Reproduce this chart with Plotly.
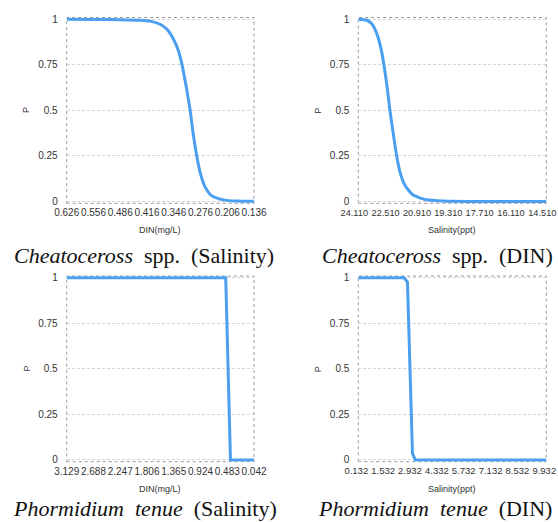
import plotly.graph_objects as go

# ---------------- data ----------------
# Panel 1: Cheatoceross spp. (Salinity) – x axis DIN(mg/L), reversed
p1_ticks = [0.626, 0.556, 0.486, 0.416, 0.346, 0.276, 0.206, 0.136]
p1_tick_text = ["0.626", "0.556", "0.486", "0.416", "0.346", "0.276", "0.206", "0.136"]
p1_x = [0.626, 0.556, 0.486, 0.434, 0.408, 0.382, 0.364, 0.347, 0.334, 0.325,
        0.3165, 0.310, 0.303, 0.295, 0.286, 0.277, 0.264, 0.247, 0.216, 0.181, 0.136]
p1_y = [1.0, 0.999, 0.998, 0.995, 0.990, 0.973, 0.946, 0.892, 0.829, 0.757,
        0.667, 0.59, 0.50, 0.37, 0.252, 0.16, 0.08, 0.032, 0.009, 0.002, 0.001]

# Panel 2: Cheatoceross spp. (DIN) – x axis Salinity(ppt), reversed
p2_ticks = [24.110, 22.510, 20.910, 19.310, 17.710, 16.110, 14.510]
p2_tick_text = ["24.110", "22.510", "20.910", "19.310", "17.710", "16.110", "14.510"]
p2_x = [24.11, 23.68, 23.43, 23.17, 22.92, 22.66, 22.494, 22.33, 22.15, 21.98,
        21.73, 21.31, 20.62, 19.78, 18.5, 14.51]
p2_y = [1.0, 0.995, 0.977, 0.923, 0.824, 0.645, 0.50, 0.376, 0.25, 0.161,
        0.089, 0.035, 0.009, 0.002, 0.0, 0.0]

# Panel 3: Phormidium tenue (Salinity) – x axis DIN(mg/L), reversed
p3_ticks = [3.129, 2.688, 2.247, 1.806, 1.365, 0.924, 0.483, 0.042]
p3_tick_text = ["3.129", "2.688", "2.247", "1.806", "1.365", "0.924", "0.483", "0.042"]
p3_x = [3.129, 0.508, 0.430, 0.042]
p3_y = [1.0, 1.0, 0.0, 0.0]

# Panel 4: Phormidium tenue (DIN) – x axis Salinity(ppt)
p4_ticks = [0.132, 1.532, 2.932, 4.332, 5.732, 7.132, 8.532, 9.932]
p4_tick_text = ["0.132", "1.532", "2.932", "4.332", "5.732", "7.132", "8.532", "9.932"]
p4_x = [0.132, 2.522, 2.694, 2.956, 3.097, 9.932]
p4_y = [1.0, 1.0, 0.977, 0.036, 0.0, 0.0]

y_ticks = [0, 0.25, 0.5, 0.75, 1]
y_tick_text = ["0", "0.25", "0.5", "0.75", "1"]

x_titles = ["DIN(mg/L)", "Salinity(ppt)", "DIN(mg/L)", "Salinity(ppt)"]
captions = [
    "<i>Cheatoceross</i>\u00a0\u00a0spp.\u00a0\u00a0(Salinity)",
    "<i>Cheatoceross</i>\u00a0\u00a0spp.\u00a0\u00a0(DIN)",
    "<i>Phormidium</i>\u00a0\u00a0<i>tenue</i>\u00a0\u00a0(Salinity)",
    "<i>Phormidium</i>\u00a0\u00a0<i>tenue</i>\u00a0\u00a0(DIN)",
]

# ---------------- figure ----------------
W, H = 558, 522
LINE = "#4a9ff0"
SANS = "Liberation Sans, Arial, Helvetica, sans-serif"
SERIF = "Liberation Serif, Times New Roman, serif"

panels = [
    (p1_x, p1_y, p1_ticks, p1_tick_text, [0.626, 0.136], "spline"),
    (p2_x, p2_y, p2_ticks, p2_tick_text, [24.110, 14.510], "spline"),
    (p3_x, p3_y, p3_ticks, p3_tick_text, [3.129, 0.042], "linear"),
    (p4_x, p4_y, p4_ticks, p4_tick_text, [0.132, 9.932], "linear"),
]
# x tick label font size and shift along the axis (px)
tick_fmt = [(10, 0), (9.2, 4), (10, 0), (9.5, -2)]

# plot frames in pixels (left, right, top, bottom)
frames = [
    (66.7, 254.0, 17.5, 203.3),
    (358.3, 546.3, 17.5, 203.3),
    (66.7, 254.0, 276.0, 461.7),
    (358.3, 546.3, 276.0, 461.7),
]

fig = go.Figure()
layout = dict(
    template="none",
    width=W, height=H, autosize=False,
    margin=dict(l=0, r=0, t=0, b=0, pad=0, autoexpand=False),
    paper_bgcolor="white", plot_bgcolor="white",
    showlegend=False,
    font=dict(family=SANS, size=10, color="#333333"),
)
annotations = []
shapes = []

for i, ((xs, ys, tv, tt, xr, shape), (l, r, t, b)) in enumerate(zip(panels, frames)):
    n = "" if i == 0 else str(i + 1)
    xa, ya = "xaxis" + n, "yaxis" + n
    xref, yref = "x" + n, "y" + n
    fsz, shift = tick_fmt[i]
    fig.add_trace(go.Scatter(
        x=xs, y=ys, mode="lines", xaxis=xref, yaxis=yref,
        line=dict(color=LINE, width=3, shape=shape, smoothing=0.6),
        hoverinfo="x+y",
    ))
    layout[xa] = dict(
        domain=[l / W, r / W], anchor=yref, range=xr, automargin=False,
        tickmode="array", tickvals=tv, ticktext=tt, tickangle=0,
        ticklabeloverflow="allow", ticklabelshift=shift,
        showgrid=False, zeroline=False, showline=False,
        ticks="", ticklabelstandoff=2,
        tickfont=dict(family=SANS, size=fsz, color="#333333"),
        fixedrange=True,
    )
    layout[ya] = dict(
        domain=[1 - b / H, 1 - t / H], anchor=xref, range=[-0.01, 1.01],
        automargin=False, ticklabeloverflow="allow",
        tickmode="array", tickvals=y_ticks, ticktext=y_tick_text,
        showgrid=True, gridcolor="#d6d6d6", griddash="3px,2px", gridwidth=1,
        zeroline=False, showline=False,
        ticks="", ticklabelstandoff=8,
        tickfont=dict(family=SANS, size=10, color="#333333"),
        fixedrange=True,
    )
    shapes.append(dict(
        type="rect", xref=xref + " domain", yref=yref + " domain",
        x0=0, x1=1, y0=0, y1=1,
        line=dict(color="#9a9a9a", width=1, dash="dot"),
        fillcolor="rgba(0,0,0,0)", layer="below",
    ))
    cx = (l + r) / 2
    annotations.append(dict(
        text=x_titles[i], xref="paper", yref="paper",
        x=cx / W, y=1 - (b + 27) / H, xanchor="center", yanchor="middle",
        showarrow=False, font=dict(family=SANS, size=9, color="#333333"),
    ))
    annotations.append(dict(
        text="P", xref="paper", yref="paper",
        x=(l - 40) / W, y=1 - ((t + b) / 2) / H, xanchor="center", yanchor="middle",
        textangle=-90, showarrow=False,
        font=dict(family=SANS, size=9, color="#333333"),
    ))

caption_pos = [(144, 256), (437, 256), (145, 508), (435, 508)]
for cap, (cx, cy) in zip(captions, caption_pos):
    annotations.append(dict(
        text=cap, xref="paper", yref="paper",
        x=cx / W, y=1 - cy / H, xanchor="center", yanchor="middle",
        showarrow=False, font=dict(family=SERIF, size=22, color="#111111"),
    ))

layout["annotations"] = annotations
layout["shapes"] = shapes
fig.update_layout(**layout)

fig.write_html(
    "out.html",
    config={"displayModeBar": False, "responsive": False},
    post_script="document.body.style.margin='0';document.body.style.overflow='hidden';",
)
